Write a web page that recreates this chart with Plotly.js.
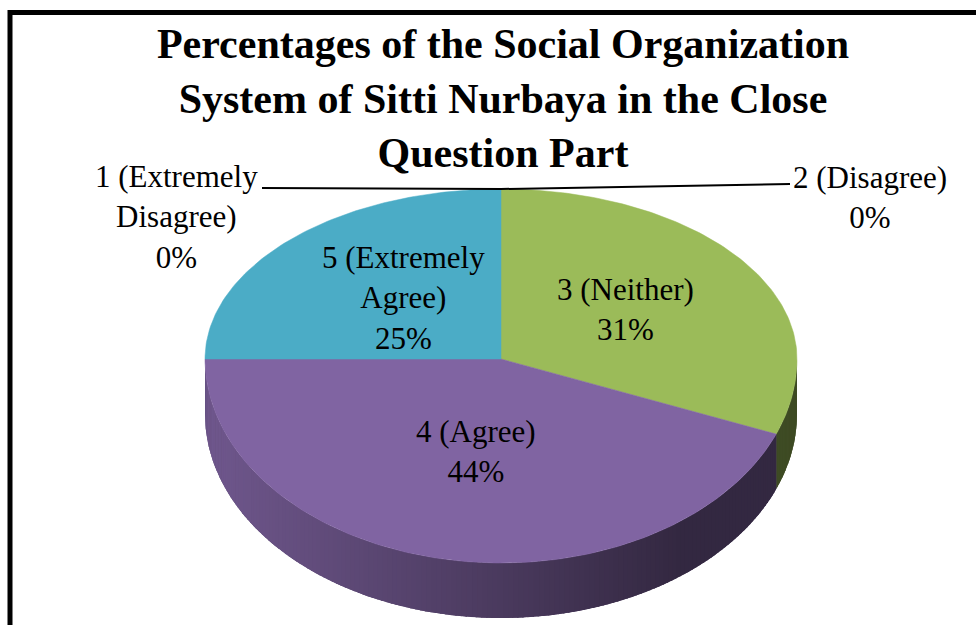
<!DOCTYPE html>
<html>
<head>
<meta charset="utf-8">
<script src="https://cdn.plot.ly/plotly-3.0.1.min.js"></script>
<style>
  html, body { margin: 0; padding: 0; background: #ffffff; }
  #chart { width: 976px; height: 625px; }
</style>
</head>
<body>
<div id="chart"></div>
<script>
// ---- data ----
const categories = ["1 (Extremely Disagree)", "2 (Disagree)", "3 (Neither)", "4 (Agree)", "5 (Extremely Agree)"];
const percentages = [0, 0, 31, 44, 25];
const sliceColors = ["#4F81BD", "#C0504D", "#9BBB59", "#8064A2", "#4BACC6"];
const chartTitle = "Percentages of the Social Organization<br>System of Sitti Nurbaya in the Close<br>Question Part";

// ---- layout geometry (pixel space of the 976x625 canvas) ----
const W = 976, H = 625;
const cx = 501, cy = 359, rx = 296, ryTop = 170, ryBot = 204, depth = 55;
const labelPos = [[176, 217], [870, 197], [625, 309], [476, 451], [403, 298]];
const leaderFrom = {0: [262, 188], 1: [790, 184]};
const serif = "Liberation Serif, Times New Roman, serif";

function pt(deg) {
  const r = deg * Math.PI / 180;
  const c = Math.cos(r), s = Math.sin(r);
  return [cx + rx * s, cy - (c > 0 ? ryTop : ryBot) * c];
}
function hexToRgb(h) {
  return [parseInt(h.slice(1, 3), 16), parseInt(h.slice(3, 5), 16), parseInt(h.slice(5, 7), 16)];
}
function shade(hex, f) {
  const c = hexToRgb(hex).map(v => Math.round(v * f));
  return "rgb(" + c.join(",") + ")";
}
function shadeFactor(x) {
  let t = (680 - x) / 475;
  t = Math.max(0, Math.min(1, t));
  return 0.40 + 0.47 * t;
}
function wrap(text, maxLen) {
  const words = text.split(" ");
  const lines = [];
  let cur = "";
  words.forEach(w => {
    if (cur && (cur + " " + w).length > maxLen) { lines.push(cur); cur = w; }
    else cur = cur ? cur + " " + w : w;
  });
  if (cur) lines.push(cur);
  return lines.join("<br>");
}
function sidePolygon(s, e, n) {
  const xs = [], ys = [];
  for (let k = 0; k <= n; k++) {
    const p = pt(s + (e - s) * k / n);
    xs.push(p[0]); ys.push(p[1]);
  }
  for (let k = n; k >= 0; k--) {
    const p = pt(s + (e - s) * k / n);
    xs.push(p[0]); ys.push(p[1] + depth);
  }
  return [xs, ys];
}

const total = percentages.reduce((a, b) => a + b, 0);
const starts = [], ends = [];
let acc = 0;
percentages.forEach(v => {
  starts.push(acc / total * 360);
  acc += v;
  ends.push(acc / total * 360);
});

const traces = [];

// side wall (front half only: 90..270 deg clockwise from 12 o'clock)
percentages.forEach((v, i) => {
  if (v <= 0) return;
  const a = Math.max(starts[i], 90), b = Math.min(ends[i], 270);
  if (b <= a) return;
  // base underlay
  const base = sidePolygon(a, b, Math.ceil(b - a));
  const baseCol = shade(sliceColors[i], shadeFactor(pt((a + b) / 2)[0]));
  traces.push({
    type: "scatter", mode: "lines", x: base[0], y: base[1], fill: "toself",
    fillcolor: baseCol, line: {color: baseCol, width: 0}, hoverinfo: "skip", showlegend: false
  });
  const step = 1;
  for (let s = a; s < b - 1e-9; s += step) {
    const e = Math.min(s + step + 0.3, b);
    const poly = sidePolygon(s, e, 3);
    const col = shade(sliceColors[i], shadeFactor(pt((s + e) / 2)[0]));
    traces.push({
      type: "scatter", mode: "lines", x: poly[0], y: poly[1], fill: "toself",
      fillcolor: col, line: {color: col, width: 0}, hoverinfo: "skip", showlegend: false
    });
  }
});

// top face slices
percentages.forEach((v, i) => {
  if (v <= 0) return;
  const xs = [cx], ys = [cy];
  const n = Math.max(8, Math.ceil((ends[i] - starts[i]) / 1));
  for (let k = 0; k <= n; k++) {
    const p = pt(starts[i] + (ends[i] - starts[i]) * k / n);
    xs.push(p[0]); ys.push(p[1]);
  }
  xs.push(cx); ys.push(cy);
  traces.push({
    type: "scatter", mode: "lines", x: xs, y: ys, fill: "toself",
    fillcolor: sliceColors[i], line: {color: sliceColors[i], width: 0.5},
    name: categories[i], hoverinfo: "name", showlegend: false
  });
});

// labels
const annotations = categories.map((c, i) => ({
  x: labelPos[i][0], y: labelPos[i][1], xref: "x", yref: "y",
  text: wrap(c, 12) + "<br>" + percentages[i] + "%",
  showarrow: false, xanchor: "center", yanchor: "middle", align: "center",
  font: {family: serif, size: 31, color: "#000000"}
}));

// leader lines for zero slices
const shapes = [];
Object.keys(leaderFrom).forEach(k => {
  const i = +k;
  const p = pt((starts[i] + ends[i]) / 2);
  shapes.push({type: "line", xref: "x", yref: "y",
    x0: leaderFrom[i][0], y0: leaderFrom[i][1], x1: p[0], y1: p[1],
    line: {color: "#000000", width: 2}});
});
// chart frame
shapes.push({type: "line", xref: "x", yref: "y", x0: 8, y0: 12.5, x1: W, y1: 12.5, line: {color: "#000000", width: 5}});
shapes.push({type: "line", xref: "x", yref: "y", x0: 10, y0: 10, x1: 10, y1: H, line: {color: "#000000", width: 5}});

const layout = {
  width: W, height: H,
  margin: {l: 0, r: 0, t: 0, b: 0, pad: 0},
  paper_bgcolor: "#ffffff", plot_bgcolor: "#ffffff",
  title: {
    text: chartTitle, x: 503 / W, xanchor: "center", xref: "paper",
    y: 1 - 58 / H, yanchor: "middle", yref: "paper",
    font: {family: serif, size: 42, color: "#000000", weight: "bold"}
  },
  xaxis: {range: [0, W], visible: false, fixedrange: true},
  yaxis: {range: [H, 0], visible: false, fixedrange: true},
  showlegend: false,
  annotations: annotations,
  shapes: shapes
};

Plotly.newPlot("chart", traces, layout, {displayModeBar: false, staticPlot: true});
</script>
</body>
</html>
